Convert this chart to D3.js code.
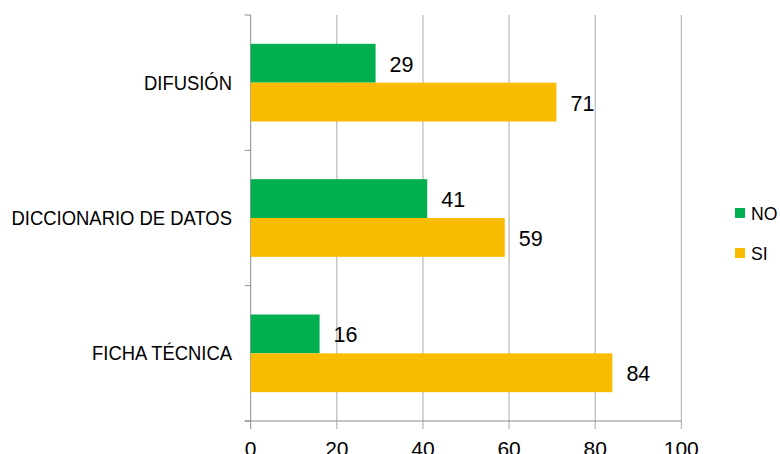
<!DOCTYPE html>
<html>
<head>
<meta charset="utf-8">
<script src="https://cdn.jsdelivr.net/npm/d3@7"></script>
<style>
body { margin: 0; background: #fff; }
svg { display: block; font-family: "Liberation Sans", Arial, sans-serif; }
</style>
</head>
<body>
<svg id="chart" width="780" height="454"></svg>
<script>
var categories = ["DIFUSIÓN", "DICCIONARIO DE DATOS", "FICHA TÉCNICA"];
var seriesNames = ["NO", "SI"];
var noValues = [29, 41, 16];
var siValues = [71, 59, 84];
var xTicks = [0, 20, 40, 60, 80, 100];
var colors = ["#00b050", "#f9bc00"];

function build_chart()
{
    var svg = d3.select("#chart");
    var left = 250.7, right = 681.3, top = 15, bottom = 421;

    var x = d3.scaleLinear().domain([0, 100]).range([left, right]);

    var y = d3.scaleBand()
        .domain(categories)
        .range([top, bottom])
        .paddingInner(0.426)
        .paddingOuter(0.213);

    var ySub = d3.scaleBand()
        .domain(seriesNames)
        .range([0, y.bandwidth()]);

    // gridlines + bottom ticks
    svg.append("g").selectAll("line")
        .data(xTicks)
        .enter().append("line")
        .attr("x1", function(d) { return x(d); })
        .attr("x2", function(d) { return x(d); })
        .attr("y1", top)
        .attr("y2", function(d) { return bottom + 8; })
        .attr("stroke", function(d) { return d === 0 ? "#8c8c8c" : "#a9a9a9"; })
        .attr("stroke-width", 1);

    // bottom axis line
    svg.append("line")
        .attr("x1", left - 6).attr("x2", right)
        .attr("y1", bottom).attr("y2", bottom)
        .attr("stroke", "#8c8c8c");

    // category ticks on left
    var catEdges = [top].concat(categories.map(function(c) { return y(c) - y.step() * y.paddingOuter() + y.step(); }));
    svg.append("g").selectAll("line")
        .data(catEdges)
        .enter().append("line")
        .attr("x1", left - 6).attr("x2", left)
        .attr("y1", function(d) { return d; })
        .attr("y2", function(d) { return d; })
        .attr("stroke", "#8c8c8c");

    // tick labels (cut by bottom edge, like the original)
    svg.append("g").selectAll("text")
        .data(xTicks)
        .enter().append("text")
        .attr("x", function(d) { return x(d); })
        .attr("y", 456)
        .attr("text-anchor", "middle")
        .style("font-size", "21px")
        .attr("fill", "#000")
        .text(function(d) { return d; });

    // category labels
    svg.append("g").selectAll("text")
        .data(categories)
        .enter().append("text")
        .attr("transform", function(d) {
            return "translate(232," + (y(d) + y.bandwidth() / 2 + 7) + ") scale(0.945,1)";
        })
        .attr("text-anchor", "end")
        .style("font-size", "19.5px")
        .attr("fill", "#000")
        .text(function(d) { return d; });

    // bars
    var series = [noValues, siValues];
    series.forEach(function(vals, si) {
        var g = svg.append("g");
        g.selectAll("rect")
            .data(vals)
            .enter().append("rect")
            .attr("x", x(0))
            .attr("y", function(d, i) { return y(categories[i]) + ySub(seriesNames[si]); })
            .attr("width", function(d) { return x(d) - x(0); })
            .attr("height", ySub.bandwidth())
            .attr("fill", colors[si]);

        g.selectAll("text")
            .data(vals)
            .enter().append("text")
            .attr("x", function(d) { return x(d) + 14; })
            .attr("y", function(d, i) { return y(categories[i]) + ySub(seriesNames[si]) + ySub.bandwidth() / 2 + 8.5; })
            .style("font-size", "21.5px")
            .attr("fill", "#000")
            .text(function(d) { return d; });
    });

    // legend
    var legend = svg.append("g").selectAll("g")
        .data(seriesNames)
        .enter().append("g")
        .attr("transform", function(d, i) { return "translate(735," + (208 + i * 40) + ")"; });

    legend.append("rect")
        .attr("width", 10).attr("height", 10)
        .attr("fill", function(d, i) { return colors[i]; });

    legend.append("text")
        .attr("transform", "translate(16,12) scale(0.93,1)")
        .style("font-size", "19px")
        .attr("fill", "#000")
        .text(function(d) { return d; });
}

build_chart();
</script>
</body>
</html>
